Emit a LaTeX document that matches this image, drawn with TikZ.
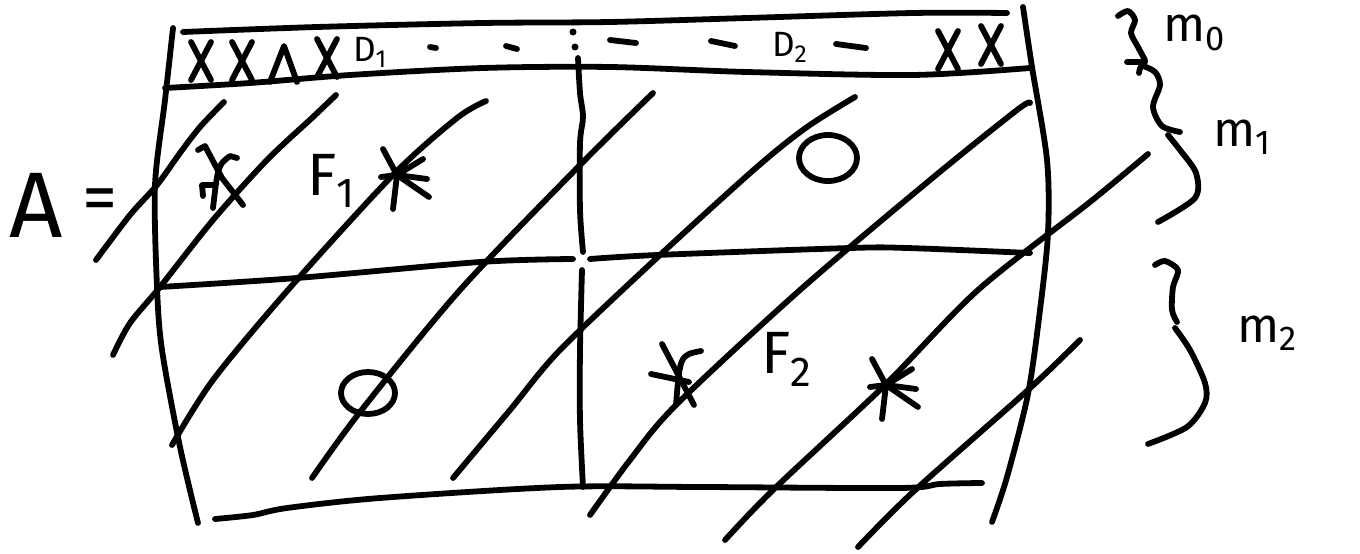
\documentclass[tikz,border=0pt]{standalone}
\usepackage{fontspec}
\setmainfont{Fira Sans}
\begin{document}
\begin{tikzpicture}[x=0.02cm,y=-0.02cm,
  pen/.style={line width=3.3pt,line cap=round,line join=round},
  lbl/.style={inner sep=0pt,outer sep=0pt,anchor=base west},
  bandx/.pic={\draw[pen] (-10,-19) -- (10,19); \draw[pen] (10,-19) -- (-10,19);},
  starmark/.pic={\draw[pen] (-14,-26)--(0,0)--(-4,34); \draw[pen] (26,-16)--(0,0)--(32,22); \draw[pen] (-16,2)--(0,0)--(30,4);}]
\useasboundingbox (0,0) rectangle (1360,554);
% frame
\draw[pen] plot[smooth] coordinates {(183,32) (317,27) (483,23) (610,22) (747,18) (913,13) (1007,13)};
\draw[pen] plot[smooth] coordinates {(165,88) (250,83) (350,75) (483,68) (610,67) (747,72) (913,75) (1030,68)};
\draw[pen] plot[smooth] coordinates {(173,28) (165,100) (155,185) (157,287) (162,350) (180,447) (198,523)};
\draw[pen] plot[smooth] coordinates {(1023,7) (1032,67) (1047,160) (1048,233) (1040,310) (1028,394) (1007,477) (992,522)};
\draw[pen] plot[smooth] coordinates {(160,287) (297,278) (480,262) (573,259)};
\draw[pen] plot[smooth] coordinates {(590,259) (657,255) (850,248) (907,248) (1030,253)};
\draw[pen] plot[smooth] coordinates {(215,519) (253,515) (287,508) (380,498) (560,487) (700,487) (900,488) (940,484) (982,483)};
% divider
\fill (573,32) circle (3.5);
\fill (575,47) circle (3.5);
\draw[pen] plot[smooth] coordinates {(578,58) (580,93) (583,117) (580,143) (580,210) (583,252)};
\draw[pen] plot[smooth] coordinates {(582,270) (580,350) (580,420) (583,487)};
% hatching
\draw[pen] plot[smooth] coordinates {(96,260) (130,215) (157,185) (180,153) (200,127) (224,102)};
\draw[pen] plot[smooth] coordinates {(113,355) (130,323) (160,287) (213,220) (267,160) (313,117) (336,95)};
\draw[pen] plot[smooth] coordinates {(172,445) (213,380) (288,290) (393,175) (457,118) (486,101)};
\draw[pen] plot[smooth] coordinates {(312,478) (360,412) (460,290) (580,165) (653,93)};
\draw[pen] plot[smooth] coordinates {(453,478) (510,410) (560,350) (660,255) (757,167) (807,127) (855,97)};
\draw[pen] plot[smooth] coordinates {(590,515) (630,460) (676,405) (800,290) (930,180) (1017,110) (1030,103)};
\draw[pen] plot[smooth] coordinates {(725,540) (773,490) (885,385) (978,290) (1090,202) (1148,154)};
\draw[pen] plot[smooth] coordinates {(858,547) (913,492) (1028,390) (1080,340)};
% band marks
\pic at (201,61) {bandx};
\pic at (242,61) {bandx};
\draw[pen] (270,82) -- (284,46) -- (297,82);
\pic at (327,58) {bandx};
\node[lbl,font=\fontsize{20}{20}\selectfont] (d1) at (353,62) {D\textsubscript{1}};
\draw[pen] (430,47) -- (436,48);
\draw[pen] (506,46) -- (517,49);
\draw[pen] (610,40) -- (636,43);
\draw[pen] (711,41) -- (735,46);
\node[lbl,font=\fontsize{20}{20}\selectfont] (d2) at (772,57) {D\textsubscript{2}};
\draw[pen] (836,44) -- (866,48);
\pic at (948,50) {bandx};
\pic at (991,45) {bandx};
% cell marks
\draw[pen] (198,150) -- (205,146) -- (222,178) -- (243,205);
\draw[pen] (237,158) -- (230,156) .. controls (218,165) .. (213,208);
\draw[pen] (203,196) -- (202,185) -- (215,185);
\pic at (397,175) {starmark};
\node[lbl,font=\fontsize{34}{34}\selectfont] (f1) at (307,195) {F\textsubscript{1}};
\draw[pen] (828,158) ellipse (29 and 23);
\draw[pen] (368,393) ellipse (27 and 21);
\draw[pen] (662,344) -- (694,405);
\draw[pen] (701,351) .. controls (680,355) .. (676,405);
\draw[pen] (651,374) -- (689,382);
\node[lbl,font=\fontsize{34}{34}\selectfont] (f2) at (761,373) {F\textsubscript{2}};
\pic at (886,385) {starmark};
% A =
\node[lbl,font=\fontsize{53}{53}\selectfont] (a) at (10,237) {A};
\node[inner sep=0pt,font=\fontsize{40}{40}\selectfont] (eq) at (100,205) {=};
% braces
\draw[pen] plot[smooth] coordinates {(1118,16) (1128,11) (1135,20) (1131,33) (1138,47) (1145,60)};
\draw[pen] (1127,62) -- (1145,62);
\draw[pen] plot[smooth] coordinates {(1139,73) (1142,66) (1155,72) (1160,85) (1153,107) (1162,126) (1180,132)};
\draw[pen] plot[smooth] coordinates {(1168,135) (1180,150) (1196,173) (1195,198) (1158,222)};
\draw[pen] plot[smooth] coordinates {(1155,265) (1165,261) (1178,270) (1173,287) (1172,310) (1177,322)};
\draw[pen] plot[smooth] coordinates {(1175,328) (1190,350) (1205,383) (1205,403) (1187,427) (1148,444)};
\node[lbl,font=\fontsize{28}{28}\selectfont] (m0) at (1163,42) {m\textsubscript{0}};
\node[lbl,font=\fontsize{28}{28}\selectfont] (m1) at (1213,147) {m\textsubscript{1}};
\node[lbl,font=\fontsize{28}{28}\selectfont] (m2) at (1237,342) {m\textsubscript{2}};
\end{tikzpicture}
\end{document}
